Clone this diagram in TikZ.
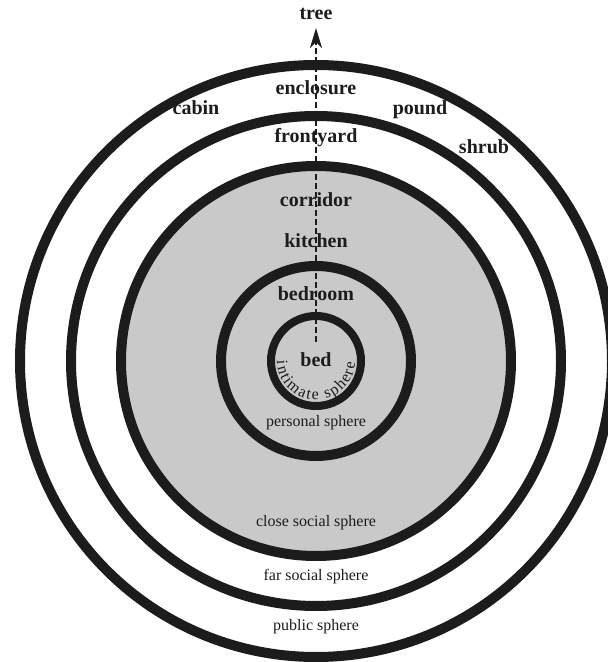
\documentclass[tikz,border=0pt]{standalone}
\usepackage{fontspec}
\setmainfont{Liberation Serif}
\usetikzlibrary{arrows.meta,decorations.text,calc}
\definecolor{ringblack}{RGB}{28,28,28}
\definecolor{sphgrey}{RGB}{201,201,201}
\begin{document}
\begin{tikzpicture}[x=1pt,y=1pt,
  ring/.style={draw=ringblack,line width=10pt},
  lab/.style={font=\bfseries\fontsize{20}{20}\selectfont,inner sep=0pt,text=ringblack},
  slab/.style={font=\fontsize{16}{16}\selectfont,inner sep=0pt,text=ringblack},
  pathline/.style={draw=ringblack,line width=2.6pt,dash pattern=on 6pt off 3pt,
    -{Stealth[length=20pt,width=12pt,inset=6pt]}}]
\useasboundingbox (0,0) rectangle (608,662);
\coordinate (c) at (316,301);
% grey inner zone
\fill[sphgrey] (c) circle[radius=195];
% rings
\draw[ring] (c) circle[radius=296];
\draw[ring] (c) circle[radius=245];
\draw[ring] (c) circle[radius=195];
\draw[ring] (c) circle[radius=95];
\draw[ring,line width=8pt] (c) circle[radius=45];
% labels
\node[lab] (tree) at (316,648) {tree};
\node[lab] (enclosure) at (316,574) {enclosure};
\node[lab] (cabin) at (196,554) {cabin};
\node[lab] (pound) at (420,552) {pound};
\node[lab] (shrub) at (484,515) {shrub};
\node[lab] (frontyard) at (316,524) {frontyard};
\node[lab] (corridor) at (316,462) {corridor};
\node[lab] (kitchen) at (316,421) {kitchen};
\node[lab] (bedroom) at (316,368) {bedroom};
\node[lab] (bed) at (316,302) {bed};
\node[slab] (personal) at (316,239) {personal sphere};
\node[slab] (closesocial) at (316,139) {close social sphere};
\node[slab] (farsocial) at (316,85) {far social sphere};
\node[slab] (public) at (316,35) {public sphere};
% intimate sphere, curved
\path[decorate,decoration={text along path,
    text={|\fontsize{16}{16}\selectfont\color{ringblack}|intimate sphere},
    text align={fit to path}}]
  ($(c)+(180:39)$) arc[start angle=180,end angle=358,radius=39];
% dashed path towards the tree
\coordinate (pstart) at (316,320);
\coordinate (ptip) at (316,634);
\draw[pathline] (pstart) -- (ptip);
\end{tikzpicture}
\end{document}
